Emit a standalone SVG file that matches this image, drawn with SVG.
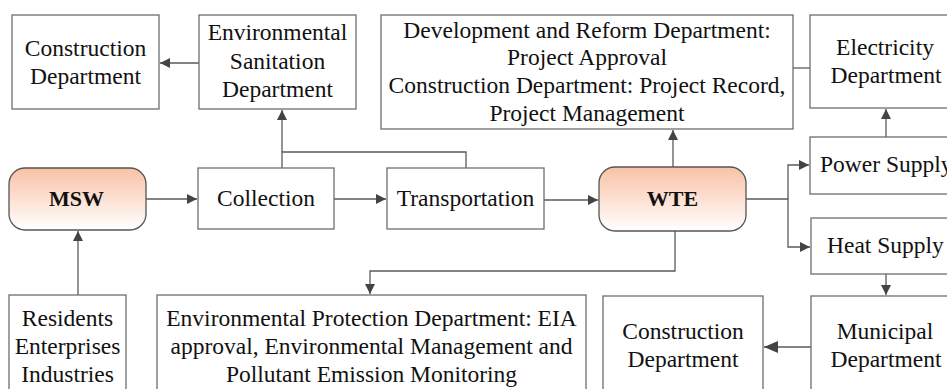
<svg xmlns="http://www.w3.org/2000/svg" width="947" height="389" viewBox="0 0 947 389">
<style>
.box{fill:#fff;stroke:#6e6e6e;stroke-width:1.3}
.rbox{stroke:#555;stroke-width:1.3;fill:url(#grad)}
.t{font-family:'Liberation Serif','Times New Roman',serif;font-size:23.5px;fill:#111;text-anchor:middle}
.ts{font-family:'Liberation Serif','Times New Roman',serif;font-size:23.5px;fill:#111;text-anchor:start}
.b{font-weight:bold;font-size:22px}
.c{fill:none;stroke:#5a5a5a;stroke-width:1.3}
.ca{fill:none;stroke:#5a5a5a;stroke-width:1.3;marker-end:url(#arr)}
</style>
<defs>
<linearGradient id="grad" x1="0" y1="0" x2="0" y2="1">
<stop offset="0" stop-color="#f9c2a6"/>
<stop offset="1" stop-color="#ffffff"/>
</linearGradient>
<marker id="arr" viewBox="0 0 10 10" refX="10" refY="5" markerWidth="10" markerHeight="10" markerUnits="userSpaceOnUse" orient="auto">
<path d="M0,0 L10,5 L0,10 z" fill="#444"/>
</marker>
<marker id="arrB" viewBox="0 0 14 12" refX="14" refY="6" markerWidth="14" markerHeight="12" markerUnits="userSpaceOnUse" orient="auto">
<path d="M0,0 L14,6 L0,12 z" fill="#444"/>
</marker>
</defs>
<rect width="947" height="389" fill="#fff"/>
<g id="connectors">
<path class="ca" d="M199,63 H160"/>
<path class="c" d="M282,168 V152 H466 V168"/>
<path class="ca" d="M282,152 V110"/>
<path class="ca" d="M146,199 H197"/>
<path class="ca" d="M334,199 H386"/>
<path class="ca" d="M544,200 H598"/>
<path class="ca" d="M673,167 V130"/>
<path class="c" d="M793,68 H810"/>
<path class="c" d="M746,199 H788"/>
<path class="ca" d="M788,199 V165 H809"/>
<path class="ca" d="M788,199 V247 H810"/>
<path class="ca" d="M886,137 V109"/>
<path class="ca" d="M886,274 V295"/>
<path class="c" d="M811,347 H764" marker-end="url(#arrB)"/>
<path class="ca" d="M675,231 V271 H370 V294"/>
<path class="ca" d="M78,295 V231"/>
</g>
<g id="construction-top"><rect class="box" x="12" y="15" width="147" height="94"/><text class="t" x="85.5" y="56">Construction</text><text class="t" x="85.5" y="84">Department</text></g>
<g id="env-sanitation"><rect class="box" x="199" y="15" width="157" height="94"/><text class="t" x="277.5" y="40">Environmental</text><text class="t" x="277.5" y="69">Sanitation</text><text class="t" x="277.5" y="97">Department</text></g>
<g id="dev-reform"><rect class="box" x="381" y="15" width="412" height="114"/><text class="t" x="587" y="38">Development and Reform Department:</text><text class="t" x="587" y="65">Project Approval</text><text class="t" x="587" y="93">Construction Department: Project Record,</text><text class="t" x="587" y="121">Project Management</text></g>
<g id="electricity"><rect class="box" x="810" y="15" width="160" height="93"/><text class="t" x="885" y="55">Electricity</text><text class="t" x="886" y="83">Department</text></g>
<g id="msw"><rect class="rbox" x="9" y="168" width="137" height="62" rx="16"/><text class="t b" x="76.5" y="206">MSW</text></g>
<g id="collection"><rect class="box" x="198" y="168" width="136" height="61"/><text class="t" x="266" y="206">Collection</text></g>
<g id="transportation"><rect class="box" x="387" y="168" width="157" height="61"/><text class="t" x="465.5" y="206">Transportation</text></g>
<g id="wte"><rect class="rbox" x="599" y="167" width="147" height="64" rx="16"/><text class="t b" x="672.5" y="206">WTE</text></g>
<g id="power-supply"><rect class="box" x="810" y="137" width="160" height="57"/><text class="ts" x="820" y="172">Power Supply</text></g>
<g id="heat-supply"><rect class="box" x="811" y="218" width="160" height="56"/><text class="ts" x="827" y="253">Heat Supply</text></g>
<g id="residents"><rect class="box" x="9" y="295" width="117" height="110"/><text class="t" x="67.5" y="326">Residents</text><text class="t" x="67.5" y="354">Enterprises</text><text class="t" x="67.5" y="382">Industries</text></g>
<g id="env-protection"><rect class="box" x="157" y="295" width="429" height="110"/><text class="t" x="371.5" y="326">Environmental Protection Department: EIA</text><text class="t" x="371.5" y="354">approval, Environmental Management and</text><text class="t" x="371.5" y="382">Pollutant Emission Monitoring</text></g>
<g id="construction-bottom"><rect class="box" x="603" y="296" width="160" height="110"/><text class="t" x="683" y="339">Construction</text><text class="t" x="683" y="367">Department</text></g>
<g id="municipal"><rect class="box" x="811" y="296" width="160" height="110"/><text class="t" x="885" y="339">Municipal</text><text class="t" x="886" y="367">Department</text></g>
</svg>
